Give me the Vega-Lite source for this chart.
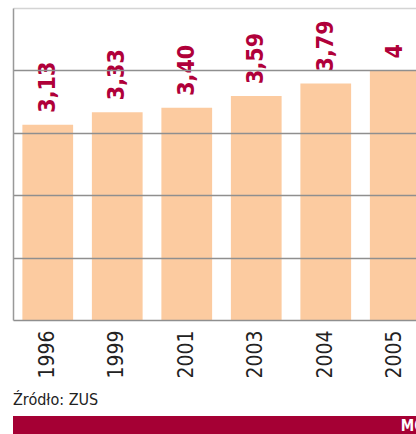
{
  "$schema": "https://vega.github.io/schema/vega-lite/v6.json",
  "padding": {"left": 7, "top": 8, "right": 0, "bottom": 0},
  "background": "white",
  "config": {"view": {"stroke": null}},
  "spacing": 7,
  "vconcat": [
    {
      "width": 403,
      "height": 312,
      "data": {"values": [
        {"year": "1996", "value": 3.13, "label": "3,13"},
        {"year": "1999", "value": 3.33, "label": "3,33"},
        {"year": "2001", "value": 3.40, "label": "3,40"},
        {"year": "2003", "value": 3.59, "label": "3,59"},
        {"year": "2004", "value": 3.79, "label": "3,79"},
        {"year": "2005", "value": 4, "label": "4"}
      ]},
      "title": {"text": "Źródło: ZUS", "orient": "bottom", "anchor": "start", "frame": "group", "offset": 14, "font": "'DejaVu Sans Condensed', 'Liberation Sans', sans-serif", "fontSize": 16, "fontWeight": "normal", "color": "#222"},
      "encoding": {
        "x": {"field": "year", "type": "nominal", "sort": null,
              "scale": {"range": [0, 417], "paddingInner": 0.27, "paddingOuter": 0.135},
              "axis": {"title": null, "labelAngle": 270, "labelAlign": "right", "labelBaseline": "middle", "labelFont": "'DejaVu Sans Condensed', 'Liberation Sans', sans-serif", "labelFontSize": 21, "labelColor": "#222", "ticks": false, "domain": false, "labelPadding": 10}},
        "y": {"field": "value", "type": "quantitative",
              "scale": {"domain": [0, 5]},
              "axis": {"title": null, "labels": false, "ticks": false, "values": [0, 1, 2, 3, 4, 5], "domainColor": "#999", "domainWidth": 1.5, "gridWidth": 1.5,
                       "gridColor": {"condition": {"test": "datum.value == 5", "value": "#d4d4d4"}, "value": "#8f8f8f"}, "zindex": 1, "minExtent": 6}}
      },
      "layer": [
        {"mark": {"type": "bar", "color": "#fccba0", "clip": true}},
        {"mark": {"type": "text", "angle": 270, "align": "left", "baseline": "middle", "dx": 12, "font": "'DejaVu Sans Condensed', 'Liberation Sans', sans-serif", "fontSize": 23, "fontWeight": "bold", "color": "#b0003a", "clip": true},
         "encoding": {"text": {"field": "label"}}}
      ]
    },
    {
      "width": 409,
      "height": 19,
      "view": {"fill": "#a50034", "stroke": null},
      "data": {"values": [{"brand": "MO"}]},
      "mark": {"type": "text", "align": "left", "baseline": "middle", "color": "white", "fontWeight": "bold", "fontSize": 15, "font": "'DejaVu Sans Condensed', 'Liberation Sans', sans-serif", "clip": true},
      "encoding": {
        "x": {"datum": 0.948, "type": "quantitative", "scale": {"domain": [0, 1]}, "axis": null},
        "text": {"field": "brand"}
      }
    }
  ]
}
